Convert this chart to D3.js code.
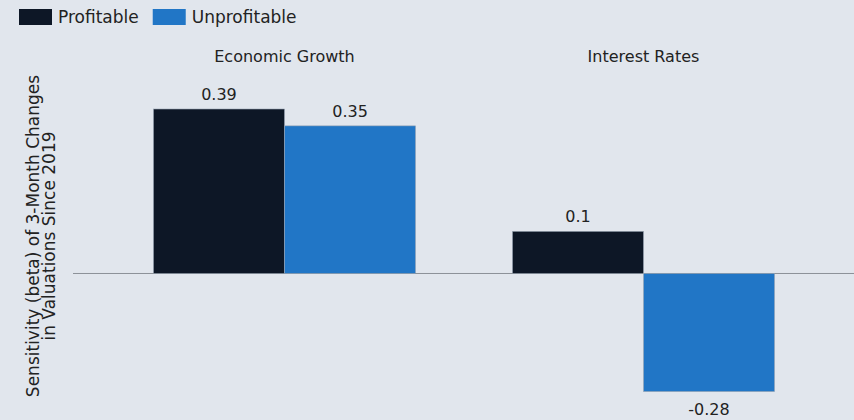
<!DOCTYPE html>
<html><head><meta charset="utf-8">
<script src="https://cdn.jsdelivr.net/npm/d3@7"></script>
<style>
html,body{margin:0;padding:0;background:#e1e6ed;}
svg{display:block;font-family:"DejaVu Sans",sans-serif;}
</style></head><body>
<svg id="c" width="854" height="420"></svg>
<script>
const facets = ["Economic Growth", "Interest Rates"];
const series = ["Profitable", "Unprofitable"];
const profitable = [0.39, 0.1];
const unprofitable = [0.35, -0.28];
const colors = ["#0d1726", "#2176c6"];
const yLabel = ["Sensitivity (beta) of 3-Month Changes", "in Valuations Since 2019"];

const svg = d3.select("#c");
const W = 854, H = 420;
svg.append("rect").attr("width", W).attr("height", H).attr("fill", "#e1e6ed");

const x0 = d3.scaleBand().domain(facets).range([105, 823]).paddingInner(0.27).paddingOuter(0.135);
const x1 = d3.scaleBand().domain(series).range([0, x0.bandwidth()]);
const y = d3.scaleLinear().domain([-0.28, 0.39]).range([391.6, 109]);

const data = facets.map((f, i) => ({facet: f, vals: [
  {s: series[0], v: profitable[i]}, {s: series[1], v: unprofitable[i]}]}));

// zero line
svg.append("line").attr("x1", 73).attr("x2", W).attr("y1", y(0)).attr("y2", y(0))
  .attr("stroke", "#8c9198").attr("stroke-width", 1);

const g = svg.selectAll("g.facet").data(data).join("g")
  .attr("transform", d => `translate(${x0(d.facet)},0)`);

g.append("text").attr("x", x0.bandwidth() / 2).attr("y", 62)
  .attr("text-anchor", "middle").attr("font-size", 16).attr("fill", "#222")
  .text(d => d.facet);

g.selectAll("rect").data(d => d.vals).join("rect")
  .attr("x", d => x1(d.s)).attr("width", x1.bandwidth())
  .attr("y", d => y(Math.max(0, d.v))).attr("height", d => Math.abs(y(d.v) - y(0)))
  .attr("fill", (d, i) => colors[i]).attr("stroke", "#9aa6b4").attr("stroke-width", 0.6);

g.selectAll("text.val").data(d => d.vals).join("text").attr("class", "val")
  .attr("x", d => x1(d.s) + x1.bandwidth() / 2)
  .attr("y", d => d.v >= 0 ? y(d.v) - 9 : y(d.v) + 23)
  .attr("text-anchor", "middle").attr("font-size", 16).attr("fill", "#222")
  .text(d => d.v);

// y label
const yl = svg.append("text").attr("transform", "translate(0,236) rotate(-90)")
  .attr("text-anchor", "middle").attr("font-size", 17).attr("fill", "#222");
yLabel.forEach((t, i) => yl.append("tspan").attr("x", 0).attr("y", 39 + i * 16).text(t));

// legend
const lg = svg.append("g");
let lx = 19;
series.forEach((s, i) => {
  lg.append("rect").attr("x", lx).attr("y", 9).attr("width", 33).attr("height", 16).attr("fill", colors[i]);
  const t = lg.append("text").attr("x", lx + 39).attr("y", 23).attr("font-size", 17).attr("fill", "#222").text(s);
  lx += 39 + t.node().getComputedTextLength() + 14;
});
</script>
</body></html>
